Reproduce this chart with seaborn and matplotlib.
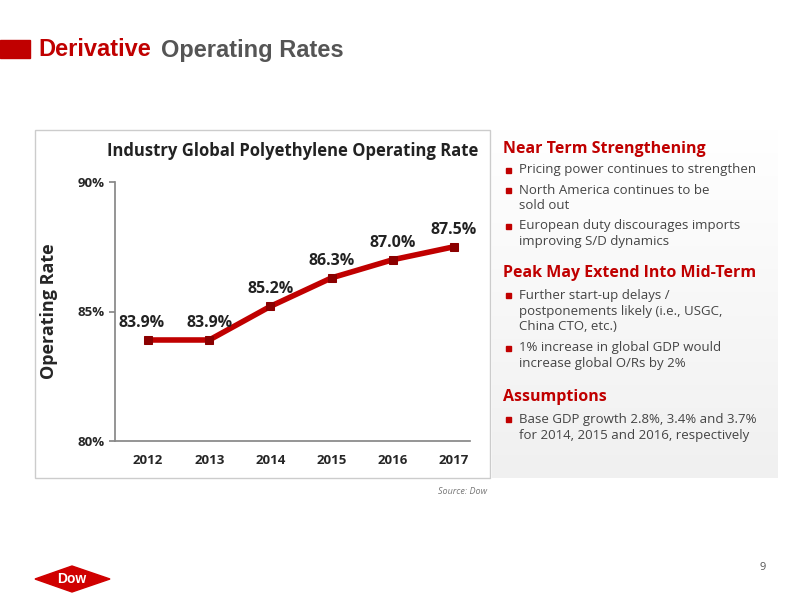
import matplotlib
matplotlib.use("Agg")
import matplotlib.pyplot as plt
import seaborn as sns
import pandas as pd
from matplotlib.patches import Rectangle, Polygon

years = ["2012", "2013", "2014", "2015", "2016", "2017"]
rates = [83.9, 83.9, 85.2, 86.3, 87.0, 87.5]
labels = ["83.9%", "83.9%", "85.2%", "86.3%", "87.0%", "87.5%"]
yticks = [80, 85, 90]

sns.set_theme(style="white")
plt.rcParams["font.family"] = ["Open Sans", "DejaVu Sans"]
RED = "#C00000"

fig = plt.figure(figsize=(8, 6), dpi=100)
W, H = 800, 600

def fx(x): return x / W
def fy(y): return 1 - y / H

# header
fig.patches.append(Rectangle((0, fy(58)), fx(30), 18 / H, transform=fig.transFigure, color=RED))
fig.text(fx(38), fy(50), "Derivative", color=RED, fontsize=17, weight="bold", family="Liberation Sans", va="center")
fig.text(fx(161), fy(50), "Operating Rates", color="#555555", fontsize=17, weight="bold", family="Liberation Sans", va="center")

# chart frame
fig.patches.append(Rectangle((fx(35), fy(478)), fx(455), 348 / H, transform=fig.transFigure,
                             facecolor="white", edgecolor="#cccccc", lw=1))
# right panel with light gradient
for i in range(30):
    fig.patches.append(Rectangle((fx(492), fy(478) + i * 348 / H / 30), fx(286), 348 / H / 30,
                                 transform=fig.transFigure, color=(1 - 0.06 * (1 - i / 30),) * 3, lw=0))

ax = fig.add_axes([fx(115), fy(441), fx(355), (441 - 182) / H])
ax.set_zorder(5)
ax.patch.set_alpha(0)
df = pd.DataFrame({"year": years, "rate": rates})
sns.lineplot(data=df, x="year", y="rate", ax=ax, color=RED, lw=4, marker="s", markersize=6,
             markeredgecolor="#8B0000", markerfacecolor="#8B0000", sort=False)
for i, (v, t) in enumerate(zip(rates, labels)):
    ax.text(i - (0.1 if i == 0 else 0), v + 0.35, t, ha="center", va="bottom", fontsize=11.5, weight="bold", color="#222222")
ax.set_ylim(80, 90)
ax.set_xlim(-0.54, 5.26)
ax.set_yticks(yticks)
ax.set_yticklabels([f"{t}%" for t in yticks], fontsize=9.5, weight="bold")
ax.tick_params(axis="x", labelsize=9.5)
for lab in ax.get_xticklabels():
    lab.set_fontweight("bold")
ax.set_xlabel("")
ax.set_ylabel("Operating Rate", fontsize=13, weight="bold", labelpad=14)
for s in ["top", "right"]:
    ax.spines[s].set_visible(False)
for s in ["left", "bottom"]:
    ax.spines[s].set_color("#888888")
ax.tick_params(axis="y", left=True, length=4, color="#888888")
ax.set_title("Industry Global Polyethylene Operating Rate", fontsize=12, weight="bold", pad=19, color="#222222")

# right text
def head(y, s):
    fig.text(fx(503), fy(y), s, color=RED, fontsize=11.5, weight="bold", va="center")

def bullet(y, lines):
    fig.patches.append(Rectangle((fx(506), fy(y + 3)), fx(5), 5 / H, transform=fig.transFigure, color=RED))
    for k, l in enumerate(lines):
        fig.text(fx(519), fy(y + k * 16), l, color="#444444", fontsize=9.5, va="center")

head(149, "Near Term Strengthening")
bullet(170, ["Pricing power continues to strengthen"])
bullet(190, ["North America continues to be", "sold out"])
bullet(226, ["European duty discourages imports", "improving S/D dynamics"])
head(273, "Peak May Extend Into Mid-Term")
bullet(295, ["Further start-up delays /", "postponements likely (i.e., USGC,", "China CTO, etc.)"])
bullet(348, ["1% increase in global GDP would", "increase global O/Rs by 2%"])
head(397, "Assumptions")
bullet(419, ["Base GDP growth 2.8%, 3.4% and 3.7%", "for 2014, 2015 and 2016, respectively"])

fig.text(fx(487), fy(491), "Source: Dow", fontsize=6.5, style="italic", color="#777777", ha="right", va="center")
fig.text(fx(766), fy(568), "9", fontsize=8, color="#555555", ha="right", va="center")

# Dow logo
fig.patches.append(Polygon([(fx(35), fy(579)), (fx(72), fy(566)), (fx(110), fy(579)), (fx(72), fy(592))],
                           closed=True, transform=fig.transFigure, color="#D00000"))
fig.text(fx(72), fy(579), "Dow", color="white", fontsize=10, weight="bold", ha="center", va="center", family="Liberation Sans")

fig.savefig("out.png", dpi=100)
